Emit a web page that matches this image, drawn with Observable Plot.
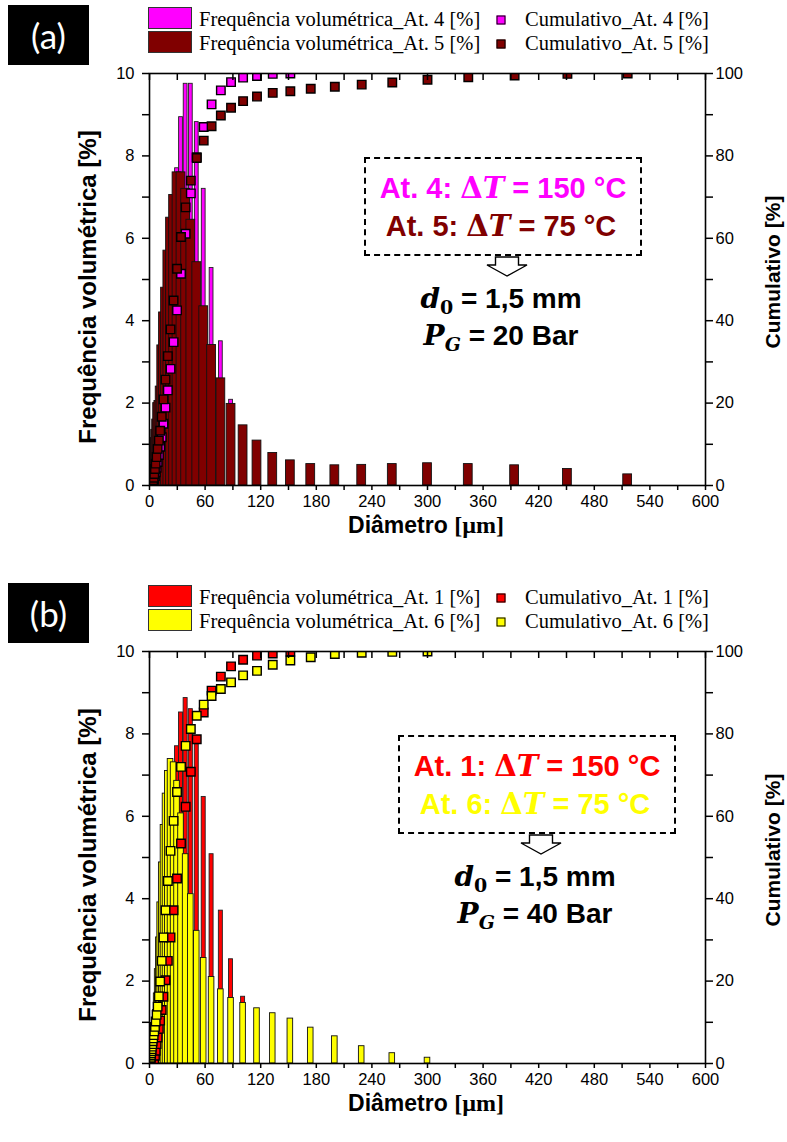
<!DOCTYPE html>
<html><head><meta charset="utf-8">
<script src="https://cdn.jsdelivr.net/npm/d3@7"></script>
<script src="https://cdn.jsdelivr.net/npm/@observablehq/plot@0.6"></script>
<style>
body{margin:0;background:#fff;}
#page{position:relative;width:787px;height:1142px;overflow:hidden;font-family:"Liberation Sans",Arial,sans-serif;color:#000;}
.panel{position:absolute;left:0;width:787px;height:564px;}
.panel svg{position:absolute;left:0;top:0;}
.abs{position:absolute;white-space:nowrap;}
.tag{position:absolute;left:8px;top:5px;width:81px;height:60px;background:#000;color:#fff;font-family:Lato,"Open Sans",sans-serif;font-size:35px;display:flex;align-items:center;justify-content:center;}
.ytitle{font-weight:bold;font-size:24px;line-height:1;transform:translate(-50%,-50%) rotate(-90deg);}
.xtitle{font-weight:bold;font-size:23px;line-height:1;transform:translate(-50%,-50%);}
.ser{font-family:"Liberation Serif","Times New Roman",serif;}
.leg{font-family:"Liberation Serif","Times New Roman",serif;font-size:20.5px;line-height:1.1;transform:translateY(-50%);}
.sw{position:absolute;width:44px;height:22px;border:1px solid #333;box-sizing:border-box;}
.mk{position:absolute;width:9px;height:9px;border:1.5px solid #000;box-sizing:border-box;transform:translate(-50%,-50%);}
.box{position:absolute;border:2px dashed #000;box-sizing:border-box;}
.ann{font-weight:bold;font-size:29px;line-height:1.15;transform:translate(-50%,-50%);}
.m{font-family:"DejaVu Serif","Liberation Serif",serif;}
</style></head><body><div id="page"></div>
<script>
// size classes (µm), shared by all series
const sizes = [0.58,0.66,0.76,0.87,1.0,1.15,1.3,1.5,1.7,2.0,2.3,2.6,3.0,3.4,3.9,4.5,5.1,5.9,6.7,7.7,8.8,10.1,11.5,13.2,15.1,17.3,19.8,22.7,26.0,29.7,34.0,39.0,44.6,51.0,58.5,67.0,77.0,88.0,101,116,133,152,174,200,229,262,300,344,394,451,516];
const _ = null;
// Panel (a): At. 4 (ΔT = 150 °C) and At. 5 (ΔT = 75 °C)
const freqAt4 = [_,_,_,_,_,_,_,_,_,_,_,0.03,0.05,0.09,0.15,0.25,0.38,0.55,0.8,1.1,1.45,1.8,2.3,2.9,3.3,3.9,4.2,5.2,6.5,7.7,8.94,9.75,9.75,8.82,7.2,5.28,3.5,2.08,1.05,0.45,0.3,0.1,_,_,_,_,_,_,_,_,_];
const cumAt4  = [_,_,_,_,_,_,_,_,_,_,_,0.1,0.2,0.4,0.7,1.1,1.6,2.3,3.2,4.3,5.7,7.4,9.4,11.7,15.0,18.9,23.1,28.3,34.8,42.5,51.4,61.1,70.9,79.7,87.0,92.5,95.9,97.9,99.0,99.4,99.9,100,_,_,_,_,_,_,_,_,_];
const freqAt5 = [_,_,_,_,_,_,0.02,0.03,0.04,0.06,0.1,0.15,0.22,0.3,0.4,0.6,0.9,1.15,1.35,1.6,2.0,2.05,2.4,3.4,4.2,4.8,5.7,6.5,7.05,7.6,7.6,7.2,6.45,5.42,4.35,3.41,2.6,1.98,1.46,1.09,0.79,0.61,0.52,0.49,0.5,0.52,0.54,0.52,0.49,0.4,0.27];
const cumAt5  = [_,_,_,_,_,_,0.02,0.05,0.1,0.15,0.25,0.4,0.6,0.9,1.3,1.9,2.8,4.0,5.3,6.9,8.9,10.9,13.3,16.7,20.9,25.7,31.4,37.9,44.9,52.6,60.3,67.5,74.0,79.5,83.7,87.2,89.8,91.7,93.3,94.4,95.3,95.7,96.3,96.8,97.3,97.8,98.5,99.1,99.5,99.9,100];
// Panel (b): At. 1 (ΔT = 150 °C) and At. 6 (ΔT = 75 °C)
const freqAt1 = [_,_,_,_,_,_,_,_,_,_,_,_,_,_,0.1,0.3,0.7,0.9,1.2,1.6,1.6,2.1,2.0,2.6,3.2,4.0,4.7,5.7,6.6,7.7,8.52,8.87,8.6,7.75,6.47,5.08,3.71,2.53,1.62,1.0,0.5,0.3,_,_,_,_,_,_,_,_,_];
const cumAt1  = [_,_,_,_,_,_,_,_,_,_,_,_,_,_,0.1,0.3,1.0,1.9,3.1,4.7,6.3,8.4,10.4,13.0,16.2,20.2,24.9,30.6,37.2,44.9,53.4,62.3,70.8,78.7,85.2,90.5,93.9,96.4,98.0,99.0,99.5,100,_,_,_,_,_,_,_,_,_];
const freqAt6 = [0.1,0.1,0.2,0.2,0.3,0.3,0.4,0.4,0.5,0.5,0.5,0.6,0.6,0.7,0.7,0.8,0.9,1.1,1.3,1.7,2.29,3.06,3.91,4.88,5.79,6.55,7.1,7.39,7.31,6.86,6.07,5.08,4.11,3.22,2.56,2.10,1.80,1.59,1.47,1.34,1.22,1.09,0.87,0.66,0.42,0.25,0.14,_,_,_,_];
const cumAt6  = [0.1,0.2,0.4,0.6,0.9,1.2,1.6,2.0,2.5,3.0,3.5,4.1,4.7,5.4,6.1,6.9,7.8,8.9,10.2,11.8,13.8,16.3,19.9,24.9,30.6,37.2,44.3,51.6,58.9,65.9,72.0,77.1,81.2,84.4,87.1,89.2,90.9,92.5,94.2,95.3,96.8,97.8,98.6,99.4,99.7,99.9,100,_,_,_,_];
// axis ticks
const xTicks = [0,30,60,90,120,150,180,210,240,270,300,330,360,390,420,450,480,510,540,570,600];
const xLabels = [0,60,120,180,240,300,360,420,480,540,600];
const yTicks = [0,1,2,3,4,5,6,7,8,9,10];
const yLabels = [0,2,4,6,8,10];
const cumLabels = [0,20,40,60,80,100];

const W = 787, H = 560, ML = 149, MR = 82, MT = 73, MB = 75;
const pxPerUnit = (W - ML - MR) / 600;

function makePlot(fa, ca, fb, cb, colA, colB, wA, wB) {
  const rows = sizes.map((d, i) => ({d, fa: fa[i], ca: ca[i], fb: fb[i], cb: cb[i]}));
  const hA = wA / 2 / pxPerUnit, hB = wB / 2 / pxPerUnit;
  const A = rows.filter(r => r.fa != null), B = rows.filter(r => r.fb != null);
  const CA = rows.filter(r => r.ca != null), CB = rows.filter(r => r.cb != null);
  const fs = 16.5;
  return Plot.plot({
    width: W, height: H, marginLeft: ML, marginRight: MR, marginTop: MT, marginBottom: MB,
    x: {domain: [0, 600]}, y: {domain: [0, 10]},
    style: {fontFamily: "'Liberation Sans', Arial, sans-serif", fontSize: "16px", color: "#000", background: "transparent", overflow: "visible"},
    marks: [
      Plot.rect(A, {x1: r => r.d - hA, x2: r => r.d + hA, y1: 0, y2: "fa", fill: colA, stroke: "#222", strokeWidth: 0.9, clip: true}),
      Plot.rect(B, {x1: r => r.d - hB, x2: r => r.d + hB, y1: 0, y2: "fb", fill: colB, stroke: "#111", strokeWidth: 0.9, clip: true}),
      Plot.dot(CA, {x: "d", y: r => r.ca / 10, symbol: "square", r: 4.8, fill: colA, stroke: "#000", strokeWidth: 1.4, clip: true}),
      Plot.dot(CB, {x: "d", y: r => r.cb / 10, symbol: "square", r: 4.8, fill: colB, stroke: "#000", strokeWidth: 1.4, clip: true}),
      Plot.axisX({anchor: "bottom", ticks: xTicks, tickSize: 5, tickPadding: 5, fontSize: fs, strokeWidth: 1.5, tickFormat: d => xLabels.includes(d) ? String(d) : "", label: null}),
      Plot.axisX({anchor: "top", ticks: xTicks, tickSize: -6, strokeWidth: 1.5, tickFormat: () => "", label: null}),
      Plot.axisY({anchor: "left", ticks: yTicks, tickSize: 7, tickPadding: 8, fontSize: fs, strokeWidth: 1.5, tickFormat: d => yLabels.includes(d) ? String(d) : "", label: null}),
      Plot.axisY({anchor: "right", ticks: yTicks, tickSize: 7, tickPadding: 3, fontSize: fs, strokeWidth: 1.5, tickFormat: d => yLabels.includes(d) ? String(cumLabels[yLabels.indexOf(d)]) : "", label: null}),
      Plot.frame({stroke: "#000", strokeWidth: 1.6})
    ]
  });
}

function arrowSvg(cx, top) {
  const ns = "http://www.w3.org/2000/svg";
  const s = document.createElementNS(ns, "svg");
  s.setAttribute("width", 50); s.setAttribute("height", 24);
  s.style.position = "absolute"; s.style.left = (cx - 25) + "px"; s.style.top = top + "px";
  const p = document.createElementNS(ns, "polygon");
  p.setAttribute("points", "13.5,1 36.5,1 36.5,9 45,9 25,20 5,9 13.5,9");
  p.setAttribute("fill", "#fff"); p.setAttribute("stroke", "#000"); p.setAttribute("stroke-width", "1.4");
  s.appendChild(p);
  return s;
}

function buildPanel(top, cfg) {
  const div = document.createElement("div");
  div.className = "panel"; div.style.top = top + "px";
  div.appendChild(makePlot(cfg.fa, cfg.ca, cfg.fb, cfg.cb, cfg.colA, cfg.colB, cfg.wA, cfg.wB));
  const dx = cfg.annDx;
  div.insertAdjacentHTML("beforeend", `
    <div class="tag">${cfg.tag}</div>
    <div class="sw" style="left:148px;top:7px;background:${cfg.colA}"></div>
    <div class="sw" style="left:148px;top:31px;background:${cfg.colB}"></div>
    <div class="abs leg" style="left:199px;top:19px">Frequência volumétrica_${cfg.nameA} [%]</div>
    <div class="abs leg" style="left:199px;top:43px">Frequência volumétrica_${cfg.nameB} [%]</div>
    <div class="mk" style="left:501px;top:20px;background:${cfg.colA}"></div>
    <div class="mk" style="left:501px;top:44px;background:${cfg.colB}"></div>
    <div class="abs leg" style="left:525px;top:19px">Cumulativo_${cfg.nameA} [%]</div>
    <div class="abs leg" style="left:525px;top:43px">Cumulativo_${cfg.nameB} [%]</div>
    <div class="abs ytitle" style="left:88px;top:287px">Frequência volumétrica [%]</div>
    <div class="abs ytitle" style="left:772px;top:272px;font-size:21px">Cumulativo [%]</div>
    <div class="abs xtitle" style="left:426px;top:525px">Diâmetro <span class="ser" style="font-size:24px">[µm]</span></div>
    <div class="box" style="left:${364 + dx}px;top:157px;width:278px;height:99px"></div>
    <div class="abs ann" style="left:${503 + dx}px;top:189px;color:${cfg.txtA}">${cfg.nameA}: <span class="m">Δ<i>T</i></span> = 150 °C</div>
    <div class="abs ann" style="left:${501 + dx}px;top:227px;color:${cfg.txtB}">${cfg.nameB}: <span class="m">Δ<i>T</i></span> = 75 °C</div>
    <div class="abs ann" style="left:${501 + dx}px;top:301px;font-size:28px"><i class="m">d</i><sub class="m" style="font-size:19px">0</sub> = 1,5 mm</div>
    <div class="abs ann" style="left:${501 + dx}px;top:338px;font-size:28px"><i class="m">P</i><sub class="m" style="font-size:19px"><i>G</i></sub> = ${cfg.pg} Bar</div>
  `);
  div.appendChild(arrowSvg(507 + dx, 256));
  document.getElementById("page").appendChild(div);
}

buildPanel(0, {tag: "(a)", fa: freqAt4, ca: cumAt4, fb: freqAt5, cb: cumAt5, colA: "#ff00ff", colB: "#800000", txtA: "#ff00ff", txtB: "#800000", wA: 3.8, wB: 8.8, nameA: "At. 4", nameB: "At. 5", pg: 20, annDx: 0});
buildPanel(578, {tag: "(b)", fa: freqAt1, ca: cumAt1, fb: freqAt6, cb: cumAt6, colA: "#ff0000", colB: "#ffff00", txtA: "#ff0000", txtB: "#ffff00", wA: 4.0, wB: 5.6, nameA: "At. 1", nameB: "At. 6", pg: 40, annDx: 34});
</script></body></html>
